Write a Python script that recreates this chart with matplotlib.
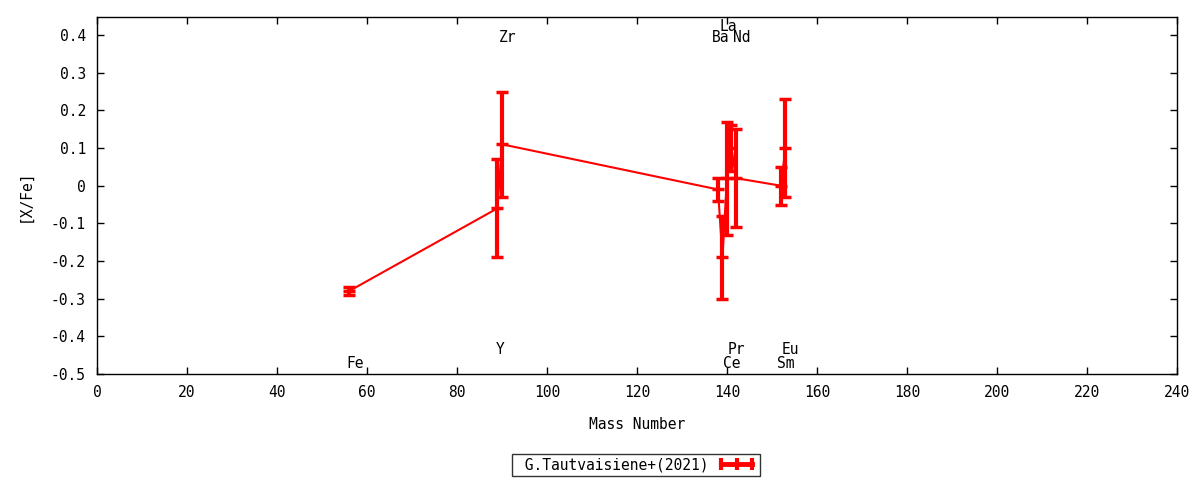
import matplotlib
matplotlib.use("Agg")
import matplotlib.pyplot as plt
from matplotlib.ticker import MultipleLocator
from matplotlib.lines import Line2D

plt.rcParams['font.family'] = ['DejaVu Sans Mono', 'DejaVu Sans']

elements = ["Fe", "Y", "Zr", "Ba", "La", "Ce", "Pr", "Nd", "Sm", "Eu"]
mass = [56, 89, 90, 138, 139, 140, 141, 142, 152, 153]
xfe = [-0.28, -0.06, 0.11, -0.01, -0.19, 0.02, 0.10, 0.02, 0.00, 0.10]
err = [0.01, 0.13, 0.14, 0.03, 0.11, 0.15, 0.06, 0.13, 0.05, 0.13]
label_y = {"Fe": -0.472, "Y": -0.435, "Zr": 0.393, "Ba": 0.393, "La": 0.422,
           "Ce": -0.472, "Pr": -0.435, "Nd": 0.393, "Sm": -0.472, "Eu": -0.435}
label_dx = {"Fe": 1.3, "Y": 0.5, "Zr": 1.3, "Ba": 0.6, "La": 1.3,
            "Ce": 1.1, "Pr": 1.0, "Nd": 1.3, "Sm": 1.0, "Eu": 1.0}
legend_label = " G.Tautvaisiene+(2021)"

fig = plt.figure(figsize=(12, 4.8), dpi=100)
ax = fig.add_axes([0.0808, 0.2208, 0.9, 0.7438])

ax.errorbar(mass, xfe, yerr=err, color='#ff0000', lw=1.5, elinewidth=3,
            capsize=4, capthick=2.5, marker='_', ms=8, mew=2.5)

for el, m in zip(elements, mass):
    ax.text(m + label_dx[el], label_y[el], el, ha='center', va='center',
            fontsize=10.5)

ax.set_xlim(0, 240)
ax.set_ylim(-0.5, 0.448)
ax.xaxis.set_major_locator(MultipleLocator(20))
ax.set_yticks([0.4, 0.3, 0.2, 0.1, 0, -0.1, -0.2, -0.3, -0.4, -0.5])
ax.set_yticklabels(["0.4", "0.3", "0.2", "0.1", "0", "-0.1", "-0.2", "-0.3", "-0.4", "-0.5"])
ax.tick_params(direction='in', top=True, right=True, length=5, width=1,
               labelsize=10.5, pad=8)
for s in ax.spines.values():
    s.set_linewidth(1)
ax.set_xlabel("Mass Number", fontsize=10.5, labelpad=12)
ax.set_ylabel("[X/Fe]", fontsize=10.5)
ax.yaxis.set_label_coords(-0.0596, 0.5)

proxy = Line2D([0], [0], color='#ff0000', lw=3.5, marker='|', ms=9, mew=3)
leg = fig.legend([proxy], [legend_label], loc='center',
                 bbox_to_anchor=(636 / 1200, 1 - 465 / 480),
                 fontsize=10.5, frameon=True, fancybox=False, markerfirst=False,
                 numpoints=3, handlelength=2.7, borderpad=0.25,
                 handletextpad=0.6, borderaxespad=0)
leg.get_frame().set_edgecolor('black')
leg.get_frame().set_linewidth(1)

fig.savefig("out.png", dpi=100)
